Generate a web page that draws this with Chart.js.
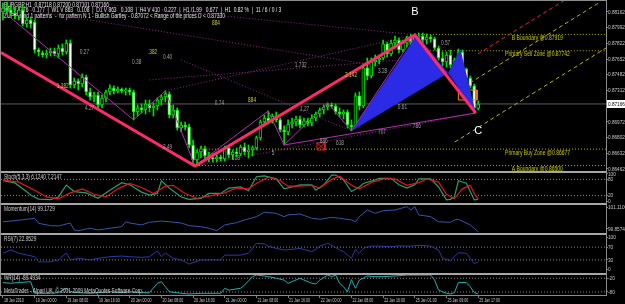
<!DOCTYPE html>
<html>
<head>
<meta charset="utf-8">
<title>EURGBP,H1 - ZUP Bullish Gartley</title>
<script src="https://cdn.jsdelivr.net/npm/chart.js@4.4.1/dist/chart.umd.min.js"></script>
<style>
  html, body { margin: 0; padding: 0; background: #000; overflow: hidden; }
  #chartBox { position: relative; width: 625px; height: 304px; }
</style>
</head>
<body>
<div id="chartBox"><canvas id="eurgbpChart" width="625" height="304"></canvas></div>
<script>
// --- EURGBP H1 bars, 18 Jan 2010 16:00 .. 25 Jan 2010 17:00 (bar index 0..120) ---

const opens = [
  0.88162, 0.88205, 0.88184, 0.88151, 0.88119, 0.88184, 0.88032, 0.88075, 0.88054, 0.87751,
  0.87718, 0.87696, 0.87718, 0.87740, 0.87707, 0.87772, 0.87729, 0.87826, 0.87372, 0.87415,
  0.87382, 0.87458, 0.87296, 0.87242, 0.87263, 0.87155, 0.87231, 0.87296, 0.87339, 0.87307,
  0.87328, 0.87307, 0.87317, 0.87296, 0.87079, 0.87123, 0.87101, 0.87166, 0.87123, 0.87144,
  0.87209, 0.87242, 0.87274, 0.87047, 0.87101, 0.86906, 0.86938, 0.86917, 0.86722, 0.86559,
  0.86646, 0.86679, 0.86603, 0.86581, 0.86570, 0.86592, 0.86570, 0.86690, 0.86614, 0.86646,
  0.86625, 0.86700, 0.86646, 0.86668, 0.86690, 0.86798, 0.86971, 0.87014, 0.86982, 0.87036,
  0.86993, 0.86884, 0.86863, 0.86949, 0.86971, 0.87003, 0.86938, 0.86982, 0.86960, 0.87014,
  0.87058, 0.87101, 0.87133, 0.87155, 0.87144, 0.87079, 0.87058, 0.87079, 0.86938, 0.86917,
  0.87253, 0.87144, 0.87556, 0.87469, 0.87621, 0.87642, 0.87664, 0.87816, 0.87707, 0.87826,
  0.87859, 0.87751, 0.87826, 0.87881, 0.87837, 0.87891, 0.87902, 0.87859, 0.87891, 0.87870,
  0.87772, 0.87664, 0.87621, 0.87696, 0.87588, 0.87642, 0.87729, 0.87545, 0.87447, 0.87361,
  0.87118
]
const highs = [
  0.88260, 0.88270, 0.88238, 0.88216, 0.88205, 0.88238, 0.88097, 0.88108, 0.88075, 0.87772,
  0.87740, 0.87751, 0.87772, 0.87772, 0.87805, 0.87816, 0.87859, 0.87859, 0.87447, 0.87437,
  0.87491, 0.87480, 0.87339, 0.87296, 0.87296, 0.87263, 0.87317, 0.87372, 0.87361, 0.87350,
  0.87339, 0.87339, 0.87339, 0.87317, 0.87155, 0.87166, 0.87209, 0.87209, 0.87177, 0.87231,
  0.87263, 0.87307, 0.87296, 0.87155, 0.87123, 0.86971, 0.86971, 0.86949, 0.86776, 0.86668,
  0.86711, 0.86711, 0.86646, 0.86625, 0.86614, 0.86614, 0.86711, 0.86711, 0.86668, 0.86690,
  0.86722, 0.86744, 0.86722, 0.86711, 0.86819, 0.86993, 0.87047, 0.87090, 0.87058, 0.87079,
  0.87014, 0.86928, 0.86993, 0.87014, 0.87036, 0.87036, 0.87014, 0.87014, 0.87047, 0.87079,
  0.87123, 0.87155, 0.87177, 0.87177, 0.87166, 0.87123, 0.87101, 0.87101, 0.86993, 0.87285,
  0.87296, 0.87599, 0.87664, 0.87664, 0.87696, 0.87696, 0.87859, 0.87837, 0.87859, 0.87902,
  0.87881, 0.87859, 0.87902, 0.87924, 0.87924, 0.87935, 0.87935, 0.87924, 0.87913, 0.87891,
  0.87794, 0.87729, 0.87729, 0.87751, 0.87664, 0.87761, 0.87751, 0.87556, 0.87469, 0.87382,
  0.87200
]
const lows = [
  0.88075, 0.88140, 0.88119, 0.88086, 0.88075, 0.88010, 0.88000, 0.87989, 0.87718, 0.87686,
  0.87675, 0.87664, 0.87686, 0.87686, 0.87664, 0.87696, 0.87707, 0.87339, 0.87339, 0.87317,
  0.87350, 0.87263, 0.87209, 0.87188, 0.87123, 0.87123, 0.87188, 0.87263, 0.87274, 0.87285,
  0.87285, 0.87263, 0.87263, 0.86993, 0.87036, 0.87068, 0.87058, 0.87079, 0.87036, 0.87101,
  0.87155, 0.87188, 0.87014, 0.87014, 0.86884, 0.86863, 0.86884, 0.86690, 0.86494, 0.86516,
  0.86581, 0.86559, 0.86538, 0.86538, 0.86538, 0.86549, 0.86549, 0.86581, 0.86570, 0.86592,
  0.86603, 0.86614, 0.86581, 0.86603, 0.86668, 0.86776, 0.86928, 0.86949, 0.86960, 0.86971,
  0.86863, 0.86722, 0.86830, 0.86906, 0.86928, 0.86906, 0.86917, 0.86928, 0.86928, 0.86982,
  0.87025, 0.87058, 0.87101, 0.87123, 0.87058, 0.87025, 0.87003, 0.86906, 0.86874, 0.86906,
  0.87101, 0.87123, 0.87426, 0.87447, 0.87577, 0.87599, 0.87642, 0.87675, 0.87686, 0.87772,
  0.87718, 0.87729, 0.87783, 0.87805, 0.87794, 0.87859, 0.87826, 0.87816, 0.87837, 0.87751,
  0.87642, 0.87577, 0.87567, 0.87556, 0.87534, 0.87621, 0.87534, 0.87426, 0.87339, 0.87068,
  0.87101
]
const closes = [
  0.88205, 0.88184, 0.88151, 0.88119, 0.88184, 0.88032, 0.88075, 0.88032, 0.87751, 0.87729,
  0.87696, 0.87718, 0.87740, 0.87707, 0.87772, 0.87729, 0.87826, 0.87372, 0.87415, 0.87382,
  0.87458, 0.87296, 0.87242, 0.87263, 0.87155, 0.87231, 0.87296, 0.87339, 0.87307, 0.87328,
  0.87307, 0.87317, 0.87296, 0.87079, 0.87123, 0.87101, 0.87166, 0.87123, 0.87144, 0.87209,
  0.87242, 0.87274, 0.87047, 0.87101, 0.86906, 0.86938, 0.86917, 0.86722, 0.86559, 0.86646,
  0.86679, 0.86603, 0.86581, 0.86570, 0.86592, 0.86570, 0.86690, 0.86614, 0.86646, 0.86625,
  0.86700, 0.86646, 0.86668, 0.86690, 0.86798, 0.86971, 0.87014, 0.86982, 0.87036, 0.86993,
  0.86884, 0.86863, 0.86949, 0.86971, 0.87003, 0.86938, 0.86982, 0.86960, 0.87014, 0.87058,
  0.87101, 0.87133, 0.87155, 0.87144, 0.87079, 0.87058, 0.87079, 0.86938, 0.86917, 0.87253,
  0.87144, 0.87556, 0.87469, 0.87621, 0.87642, 0.87664, 0.87816, 0.87707, 0.87826, 0.87859,
  0.87751, 0.87826, 0.87881, 0.87837, 0.87891, 0.87902, 0.87859, 0.87891, 0.87870, 0.87772,
  0.87664, 0.87621, 0.87696, 0.87588, 0.87642, 0.87729, 0.87545, 0.87447, 0.87361, 0.87123,
  0.87166
]
const lastPrice = 0.87166

// --- axis ticks ---

const timeTickIdx = [0, 8, 16, 24, 32, 40, 48, 56, 64, 72, 80, 88, 96, 104, 112, 120]
const timeTickLabels = [
  '18 Jan 2010', '19 Jan 00:00', '19 Jan 08:00', '19 Jan 16:00', '20 Jan 00:00',
  '20 Jan 08:00', '20 Jan 16:00', '21 Jan 00:00', '21 Jan 08:00', '21 Jan 16:00',
  '22 Jan 00:00', '22 Jan 08:00', '22 Jan 16:00', '25 Jan 01:00', '25 Jan 09:00',
  '25 Jan 17:00'
]
const priceTicks = [0.88162, 0.87992, 0.87822, 0.87652, 0.87482, 0.87312, 0.87142, 0.86972, 0.86802, 0.86632, 0.86462]
const stochTicks = [100, 80, 20, 0]
const momTicks = [101.1106, 99.8574]
const rsiTicks = [100, 70, 30, 0]
const wprTicks = [-20, -80]

// --- indicators, [bar index, value] ---

const stochMain = [
  [0, 75], [3, 67], [6, 34], [7, 22], [9, 7], [12, 5], [14, 15], [16, 59], [18, 35], [21, 30],
  [24, 10], [27, 40], [30, 68], [32, 60], [35, 33], [37, 22], [39, 28], [40, 75], [42, 48], [45, 15],
  [47, 6], [50, 10], [52, 28], [55, 28], [57, 48], [60, 52], [62, 38], [64, 90], [66, 93], [69, 82],
  [71, 45], [73, 52], [75, 60], [78, 60], [79, 40], [81, 60], [83, 96], [84, 96], [86, 78], [88, 35],
  [90, 52], [91, 65], [94, 78], [95, 84], [98, 84], [100, 60], [102, 48], [104, 60], [105, 82], [108, 82],
  [110, 52], [112, 4], [113, 6], [114, 15], [115, 75], [117, 66], [118, 35], [119, 4], [120, 6]
]
const stochSignal = [
  [0, 78], [4, 70], [8, 40], [11, 15], [14, 8], [17, 30], [20, 45], [23, 25], [26, 15], [29, 45],
  [32, 65], [35, 50], [38, 28], [41, 55], [43, 58], [46, 28], [49, 10], [52, 18], [56, 30], [59, 48],
  [62, 45], [64, 65], [67, 88], [70, 75], [72, 55], [75, 55], [78, 58], [80, 48], [83, 80], [85, 92],
  [88, 58], [90, 45], [93, 68], [96, 82], [99, 82], [102, 58], [105, 68], [107, 82], [110, 70], [112, 25],
  [114, 8], [116, 45], [118, 58], [119, 28], [120, 7]
]
const momentum = [
  [0, 100.27], [2, 100.31], [6, 100.41], [8, 100.47], [9, 100.18], [12, 100.05], [14, 100.03], [17, 100.20],
  [18, 99.80], [19, 99.76], [22, 99.90], [24, 99.80], [27, 99.90], [30, 99.99], [31, 100.27], [32, 100.20],
  [35, 100.09], [37, 100.24], [40, 100.31], [42, 100.27], [45, 100.20], [47, 100.05], [50, 99.99], [52, 99.90],
  [54, 99.76], [56, 100.09], [59, 100.22], [61, 100.37], [64, 100.56], [66, 100.81], [69, 100.75], [71, 100.56],
  [72, 100.66], [75, 100.71], [78, 100.47], [80, 100.41], [83, 100.52], [85, 100.47], [88, 100.37], [89, 100.27],
  [90, 100.56], [92, 100.94], [94, 100.75], [96, 100.90], [99, 100.94], [102, 101.13], [103, 100.94], [104, 101.13],
  [105, 100.66], [108, 100.56], [110, 100.27], [113, 100.24], [114, 100.37], [115, 100.41], [118, 100.09], [120, 99.70]
]
const rsi = [
  [0, 51], [2, 61], [4, 51], [8, 40], [9, 24], [12, 24], [14, 30], [16, 52], [17, 30], [19, 35],
  [22, 30], [24, 35], [27, 40], [30, 42], [32, 40], [35, 38], [37, 40], [39, 58], [40, 40], [41, 51],
  [43, 35], [45, 30], [47, 17], [50, 30], [52, 30], [55, 30], [56, 45], [57, 45], [60, 45], [62, 51],
  [64, 82], [66, 80], [67, 73], [69, 66], [71, 61], [73, 63], [75, 66], [78, 56], [79, 63], [80, 73],
  [82, 82], [84, 69], [85, 61], [86, 56], [88, 35], [89, 63], [90, 51], [91, 66], [93, 73], [95, 73],
  [98, 71], [100, 74], [103, 73], [105, 76], [108, 73], [110, 61], [111, 35], [113, 28], [114, 40], [115, 52],
  [117, 51], [118, 35], [119, 19], [120, 23]
]
const wpr = [
  [0, -39], [2, -42], [4, -39], [7, -35], [8, -86], [9, -86], [12, -86], [14, -83], [16, -64], [17, -79],
  [19, -83], [22, -86], [24, -83], [27, -79], [30, -83], [32, -79], [35, -83], [37, -83], [39, -42], [40, -35],
  [41, -57], [42, -79], [45, -86], [47, -89], [50, -86], [55, -86], [56, -64], [57, -72], [60, -64], [61, -50],
  [63, -13], [64, -6], [66, -10], [67, -13], [69, -20], [71, -28], [72, -42], [75, -20], [76, -28], [78, -42],
  [79, -45], [80, -28], [82, -6], [83, -13], [84, -6], [85, -42], [86, -57], [87, -79], [88, -26], [89, -64],
  [90, -28], [92, -10], [94, -13], [96, -13], [99, -10], [102, -6], [104, -6], [108, -6], [109, -28], [110, -72],
  [112, -86], [113, -89], [114, -83], [115, -39], [117, -39], [118, -57], [119, -83], [120, -89]
]

// --- ZUP pattern drawing, [bar index, price] ---

const patternLegs = [[-0.5, 0.87724], [48.5, 0.86494], [104, 0.87913], [119.4, 0.87068]]
const zigzag = [
  [0.5, 0.88151], [33, 0.86993], [41, 0.87307], [48.5, 0.86494], [67, 0.87090],
  [71, 0.86722], [82, 0.87177], [88, 0.86874], [104, 0.87913]
]
const tailLine = [[71, 0.86722], [119.4, 0.87068]]
const triangleOne = [[88, 0.86874], [104.5, 0.87913], [112.4, 0.87502], [88, 0.86874]]
const triangleTwo = [[112.4, 0.87502], [115.5, 0.87761], [119.4, 0.87068], [112.4, 0.87502]]
const fibLines = [
  [[-0.5, 0.88357], [104.5, 0.87913]],
  [[-0.5, 0.88227], [95, 0.87577]],
  [[48.5, 0.86494], [119.4, 0.87068]],
  [[41, 0.87307], [104, 0.87913]],
  [[45, 0.87642], [88, 0.86874]],
  [[37, 0.87426], [100, 0.87642]]
]
const channelRed = [[119.9, 0.87707], [141.9, 0.88292]]
const channelUpper = [[117.9, 0.87393], [150.8, 0.88270]]
const channelLower = [[114.1, 0.86754], [152.28, 0.87772]]
const orangeBox = [[115, 0.87317], [119.7, 0.87317], [119.7, 0.87209], [115, 0.87209], [115, 0.87317]]
const redBox = [
  [79.3, 0.86744], [81.3, 0.86744], [81.3, 0.86668], [79.3, 0.86668],
  [79.3, 0.86744], [81.3, 0.86668], [81.3, 0.86744], [79.3, 0.86668]
]

const zonePrices = [0.87919, 0.87742, 0.86677, 0.86500]
const zoneFrom = [104, 104, 49, 48]
const zoneLabelAt = [128.5, 126.8, 126.8, 128.5]
const zoneLabels = ['B Boundary @0.87919', 'Primary Sell Zone @0.87742', 'Primary Buy Zone @0.86677', 'A Boundary @0.86500']

const fibLabels = [
  [19.4, 0.87729, '0.27'], [32.6, 0.87621, '0.38'], [40.4, 0.87675, '0.40'], [20.7, 0.87123, '4.27'],
  [40.4, 0.86700, '2.49'], [53.5, 0.87177, '0.74'], [73.7, 0.87588, '1.732'], [94.7, 0.87523, '3.28'],
  [75, 0.87112, '1.27'], [94.7, 0.86863, '707'], [80, 0.86765, '886'], [84.1, 0.86744, '618'],
  [67.9, 0.86635, '5'], [57.8, 0.86581, '618'], [110.6, 0.87826, '0.57'], [103.5, 0.86928, '786'],
  [99.7, 0.87133, '0.61']
]
const fibLabelsYellow = [
  [36.6, 0.87729, '.382'], [52.8, 0.88043, '884'], [13.6, 0.87361, '1.382'],
  [61.9, 0.87209, '884'], [86.4, 0.87480, '2.142']
]
const pointLabels = [[104, 0.88162, 'B'], [120, 0.86874, 'C']]

const headerLines = [
  'EURGBP,H1  0.87118 0.87200 0.87101 0.87166',
  'MN V 2776   0.177  |  W1 V 863   0.108  |  D1 V 863   0.108  |  H4 V 410   0.227  |  H1 /1.99   0.677  |  H1  0.82 %  |  11 / 6 / 0 / 3',
  'ZUP Found 1 patterns  -  for pattern N 1 - Bullish Gartley - 0.87072 < Range of the prices D < 0.87330'
]
const paneTitles = ['Stoch(5,3,3) 6.1240 7.2147', 'Momentum(14) 99.1729', 'RSI(7) 22.9529', '%R(14) -89.4934']
const copyright = 'MetaTrader - Alpari UK, \u00a9 2001-2009 MetaQuotes Software Corp.'

// --- helpers ---

const X_MIN = -0.5
const X_MAX = 152.28
const FONT = '"Liberation Sans", Arial, sans-serif'
const toXY = (pts) => pts.map(([x, y]) => ({ x, y }))

function lineSet(points, axis, color, extra) {
  return Object.assign({
    type: 'line',
    data: toXY(points),
    yAxisID: axis,
    borderColor: color,
    borderWidth: 1,
    pointRadius: 0,
    fill: false,
    tension: 0
  }, extra)
}

function levelSet(value, axis, order) {
  return lineSet([[X_MIN, value], [X_MAX, value]], axis, '#8c8c8c', { borderDash: [1, 2], order })
}

function pane(weight, stackWeight, min, max, ticks) {
  return {
    type: 'linear',
    position: 'right',
    stack: 'panes',
    stackWeight,
    weight,
    min,
    max,
    bounds: 'data',
    afterBuildTicks: (scale) => { scale.ticks = ticks.map((v) => ({ value: v })) },
    afterFit: (scale) => { scale.width = 19 },
    grid: { drawOnChartArea: false, drawTicks: true, tickLength: 2, color: '#808080' },
    border: { display: true, color: '#808080' },
    ticks: { display: false }
  }
}

function drawText(ctx, text, x, y, size, sx, color, align) {
  ctx.save()
  ctx.translate(x, y)
  ctx.scale(sx, 1)
  ctx.font = size + 'px ' + FONT
  ctx.fillStyle = color
  ctx.textAlign = align || 'left'
  ctx.textBaseline = 'middle'
  ctx.fillText(text, 0, 0)
  ctx.restore()
}

// MetaTrader style texts, separators and the price box
const mt4Text = {
  id: 'mt4Text',
  beforeDatasetsDraw(chart) {
    const { ctx } = chart
    const headerY = [5, 10.5, 16.5]
    headerLines.forEach((line, k) => drawText(ctx, line, 4, headerY[k], 7, 0.7, '#e6e6e6'))
  },
  afterDatasetsDraw(chart) {
    const { ctx, scales } = chart
    const px = (i) => scales.x.getPixelForValue(i)
    const py = (p) => scales.yMain.getPixelForValue(p)
    fibLabels.forEach(([i, p, t]) => drawText(ctx, t, px(i), py(p), 7, 0.68, '#a0a0a0'))
    fibLabelsYellow.forEach(([i, p, t]) => drawText(ctx, t, px(i), py(p), 7, 0.68, '#c8c832'))
    zonePrices.forEach((p, k) => drawText(ctx, zoneLabels[k], px(zoneLabelAt[k]), py(p) + 3.5, 7, 0.72, '#c8c800'))
    pointLabels.forEach(([i, p, t]) => drawText(ctx, t, px(i), py(p), 11, 1, '#ffffff', 'center'))
  },
  afterDraw(chart) {
    const { ctx, chartArea, scales } = chart

    // pane separators
    const subPanes = ['yStoch', 'yMom', 'yRsi', 'yWpr']
    ctx.fillStyle = '#a6a6a6'
    subPanes.forEach((id) => ctx.fillRect(0, Math.round(scales[id].top), 607, 2))

    // outer frame
    ctx.strokeStyle = '#8c8c8c'
    ctx.lineWidth = 1
    ctx.strokeRect(chartArea.left - 0.5, chartArea.top - 0.5, chartArea.right - chartArea.left + 1, chartArea.bottom - chartArea.top + 1)

    // pane titles
    const titleY = [177, 209, 239, 278]
    paneTitles.forEach((t, k) => drawText(ctx, t, 4, titleY[k], 7, 0.68, '#d0d0d0'))
    drawText(ctx, copyright, 4, 291, 7, 0.68, '#d0d0d0')

    // right axis labels
    const axes = [
      ['yMain', (v) => v.toFixed(5)],
      ['yStoch', (v) => String(v)],
      ['yMom', (v) => String(v)],
      ['yRsi', (v) => String(v)],
      ['yWpr', (v) => String(v)]
    ]
    axes.forEach(([id, fmt]) => {
      const s = scales[id]
      s.ticks.forEach((t) => drawText(ctx, fmt(t.value), s.left + 2, s.getPixelForValue(t.value), 6, 0.78, '#c8c8c8'))
    })

    // current price box
    const yLast = scales.yMain.getPixelForValue(lastPrice)
    ctx.fillStyle = '#ffffff'
    ctx.fillRect(607, Math.round(yLast) - 4, 18, 8)
    drawText(ctx, lastPrice.toFixed(5), 608, yLast, 6, 0.78, '#000000')

    // time axis labels
    scales.x.ticks.forEach((t) => {
      const k = timeTickIdx.indexOf(t.value)
      if (k < 0) return
      drawText(ctx, timeTickLabels[k], scales.x.getPixelForValue(t.value) + 1, 300, 6, 0.6, '#c8c8c8')
    })
  }
}

// --- datasets ---

const barIdx = closes.map((_, i) => i)
const wickData = barIdx.map((i) => ({ x: i, y: [lows[i], highs[i]] }))
const bodyData = barIdx.map((i) => ({ x: i, y: [opens[i], closes[i]] }))
const bodyColors = barIdx.map((i) => (closes[i] < opens[i] ? '#ffffff' : '#000000'))

const datasets = [
  lineSet(patternLegs, 'yMain', '#ff2a6a', { borderWidth: 3, order: 1 }),
  lineSet(zigzag, 'yMain', '#b030b0', { order: 2 }),
  lineSet(tailLine, 'yMain', '#b030b0', { order: 2 }),
  lineSet(triangleOne, 'yMain', '#2b2be6', { fill: 'shape', backgroundColor: '#2b2be6', borderWidth: 0, order: 3 }),
  lineSet(triangleTwo, 'yMain', '#2b2be6', { fill: 'shape', backgroundColor: '#2b2be6', borderWidth: 0, order: 3 }),
  lineSet(orangeBox, 'yMain', '#ff8c00', { order: 3 }),
  lineSet(redBox, 'yMain', '#e02020', { order: 3 }),
  {
    type: 'bar',
    data: bodyData,
    yAxisID: 'yMain',
    backgroundColor: bodyColors,
    borderColor: '#00e000',
    borderWidth: 1,
    borderSkipped: false,
    barThickness: 3,
    minBarLength: 1,
    grouped: false,
    order: 4
  },
  {
    type: 'bar',
    data: wickData,
    yAxisID: 'yMain',
    backgroundColor: '#00e000',
    barThickness: 1,
    grouped: false,
    order: 5
  },
  lineSet(channelRed, 'yMain', '#e0203c', { borderDash: [4, 3], order: 6 }),
  lineSet(channelUpper, 'yMain', '#b4b420', { borderDash: [4, 3], order: 6 }),
  lineSet(channelLower, 'yMain', '#b4b420', { borderDash: [4, 3], order: 6 }),
  ...zonePrices.map((p, k) => lineSet([[zoneFrom[k], p], [X_MAX, p]], 'yMain', '#b4b400', { borderDash: [1, 2], order: 7 })),
  ...fibLines.map((pts) => lineSet(pts, 'yMain', '#8a2a8a', { borderDash: [1, 2], order: 8 })),
  lineSet([[X_MIN, lastPrice], [X_MAX, lastPrice]], 'yMain', '#5c5c5c', { order: 9 }),

  levelSet(80, 'yStoch', 12),
  levelSet(20, 'yStoch', 12),
  lineSet(stochMain, 'yStoch', '#2a9d6a', { borderWidth: 1.2, order: 11 }),
  lineSet(stochSignal, 'yStoch', '#e01818', { borderWidth: 1.2, order: 10 }),

  lineSet(momentum, 'yMom', '#3556b0', { order: 10 }),

  levelSet(70, 'yRsi', 12),
  levelSet(30, 'yRsi', 12),
  lineSet(rsi, 'yRsi', '#2a3aa8', { order: 10 }),

  levelSet(-20, 'yWpr', 12),
  levelSet(-80, 'yWpr', 12),
  lineSet(wpr, 'yWpr', '#1eb0b0', { order: 10 })
]

new Chart(document.getElementById('eurgbpChart'), {
  type: 'line',
  data: { datasets },
  plugins: [mt4Text],
  options: {
    responsive: false,
    animation: false,
    events: [],
    layout: { padding: { left: 1, top: 1, right: 0, bottom: 0 } },
    elements: { point: { radius: 0 } },
    plugins: {
      legend: { display: false },
      tooltip: { enabled: false },
      title: { display: false }
    },
    scales: {
      x: {
        type: 'linear',
        min: X_MIN,
        max: X_MAX,
        offset: false,
        bounds: 'data',
        afterBuildTicks: (scale) => { scale.ticks = timeTickIdx.map((v) => ({ value: v })) },
        afterFit: (scale) => { scale.height = 9 },
        grid: { drawOnChartArea: false, drawTicks: true, tickLength: 3, color: '#808080', offset: false },
        border: { display: false },
        ticks: { display: false }
      },
      yMain: pane(1, 170, 0.86440, 0.88281, priceTicks),
      yStoch: pane(2, 32, -7.4, 111.1, stochTicks),
      yMom: pane(3, 30, 99.6295, 101.3385, momTicks),
      yRsi: pane(4, 40, -10.9, 114.1, rsiTicks),
      yWpr: pane(5, 22, -93.4, 3, wprTicks)
    }
  }
})
</script>
</body>
</html>
